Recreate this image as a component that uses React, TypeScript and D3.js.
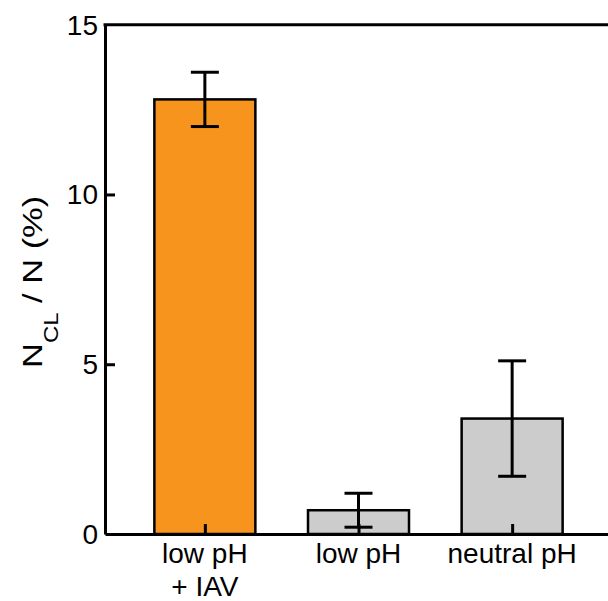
import React, { useRef, useEffect } from 'react';
import * as d3 from 'd3';

const categories = ['low pH|+ IAV', 'low pH', 'neutral pH'];
const values = [12.8, 0.7, 3.4];
const errors = [0.8, 0.5, 1.7];
const colors = ['#f7941d', '#cccccc', '#cccccc'];
const yTicks = [0, 5, 10, 15];

const width = 608;
const height = 601;

const App = () => {
  const ref = useRef<SVGSVGElement>(null);

  useEffect(() => {
    const svg = d3.select(ref.current)
      .attr('width', width)
      .attr('height', height)
      .style('display', 'block')
      .style('font-family', '"Liberation Sans", Arial, sans-serif');

    svg.selectAll('*').remove();

    const left = 105;
    const right = 612;
    const top = 24.7;
    const bottom = 534;

    const x = d3.scalePoint<string>()
      .domain(categories)
      .range([left, right])
      .padding(0.65);
    const barW = 101;

    const y = d3.scaleLinear()
      .domain([0, 15])
      .range([bottom, top]);

    const data = categories.map((c, i) => ({ c, v: values[i], e: errors[i], col: colors[i] }));

    // bars
    svg.selectAll('rect.bar')
      .data(data)
      .enter()
      .append('rect')
      .attr('class', 'bar')
      .attr('x', d => (x(d.c) as number) - barW / 2)
      .attr('width', barW)
      .attr('y', d => y(d.v))
      .attr('height', d => bottom - y(d.v))
      .attr('fill', d => d.col)
      .attr('stroke', '#000')
      .attr('stroke-width', 2.5);

    // error bars
    const eb = svg.selectAll('g.err')
      .data(data)
      .enter()
      .append('g')
      .attr('stroke', '#000')
      .attr('stroke-width', 3);
    eb.append('line')
      .attr('x1', d => x(d.c) as number)
      .attr('x2', d => x(d.c) as number)
      .attr('y1', d => y(d.v - d.e))
      .attr('y2', d => y(d.v + d.e));
    eb.append('line')
      .attr('x1', d => (x(d.c) as number) - 14)
      .attr('x2', d => (x(d.c) as number) + 14)
      .attr('y1', d => y(d.v + d.e))
      .attr('y2', d => y(d.v + d.e));
    eb.append('line')
      .attr('x1', d => (x(d.c) as number) - 14)
      .attr('x2', d => (x(d.c) as number) + 14)
      .attr('y1', d => y(d.v - d.e))
      .attr('y2', d => y(d.v - d.e));

    // x axis (ticks inward)
    const xAxis = svg.append('g')
      .attr('transform', `translate(0, ${bottom})`)
      .call(d3.axisTop(x).tickSize(10).tickSizeOuter(0).tickFormat(() => ''));
    xAxis.select('.domain').attr('stroke-width', 3).attr('stroke', '#000');
    xAxis.selectAll('.tick line').attr('stroke-width', 3).attr('stroke', '#000');

    const labels = svg.append('g');
    data.forEach(d => {
      const t = labels.append('text')
        .attr('text-anchor', 'middle')
        .attr('font-size', 28)
        .attr('fill', '#000');
      d.c.split('|').forEach((line, k) => {
        t.append('tspan')
          .attr('x', x(d.c) as number)
          .attr('y', 563 + k * 33)
          .text(line);
      });
    });

    // y axis (ticks inward)
    const yAxis = svg.append('g')
      .attr('transform', `translate(${left}, 0)`)
      .call(d3.axisRight(y).tickValues(yTicks).tickSize(10).tickSizeOuter(0).tickFormat(() => ''));
    yAxis.select('.domain').attr('stroke-width', 3).attr('stroke', '#000');
    yAxis.selectAll('.tick line').attr('stroke-width', 3).attr('stroke', '#000');
    yAxis.selectAll('.tick')
      .filter(d => d === 0 || d === 15)
      .select('line').remove();

    svg.append('g')
      .selectAll('text')
      .data(yTicks)
      .enter()
      .append('text')
      .attr('x', left - 7)
      .attr('y', d => y(d) + 10)
      .attr('text-anchor', 'end')
      .attr('font-size', 28)
      .attr('fill', '#000')
      .text(d => d);

    // top frame line
    svg.append('line')
      .attr('x1', left - 1.5)
      .attr('x2', width)
      .attr('y1', top)
      .attr('y2', top)
      .attr('stroke', '#000')
      .attr('stroke-width', 3);

    // y label (stretched along its length as in the original)
    const yl = svg.append('text')
      .attr('transform', 'translate(42, 368) rotate(-90) scale(1.23, 1)')
      .attr('font-size', 28)
      .attr('fill', '#000');
    yl.append('tspan').text('N');
    yl.append('tspan').attr('font-size', 19.5).attr('dy', 16).text('CL');
    yl.append('tspan').attr('dy', -16).text(' / N (%)');
  }, []);

  return <svg ref={ref} style={{ position: 'absolute', left: 0, top: 0 }} />;
};

export default App;
